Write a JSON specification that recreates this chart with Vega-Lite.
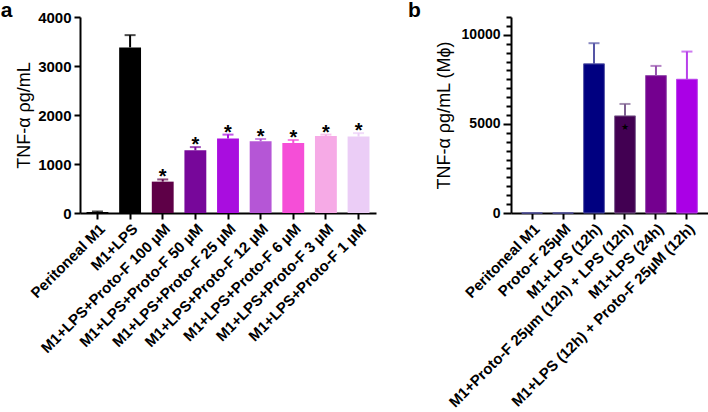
{
  "$schema": "https://vega.github.io/schema/vega-lite/v6.json",
  "padding": {"left": 0, "top": 0, "right": 0, "bottom": 0},
  "background": "white",
  "config": {
    "font": "Liberation Sans",
    "view": {"stroke": null},
    "concat": {"spacing": 32},
    "axis": {
      "domainColor": "black", "domainWidth": 2, "tickColor": "black", "tickWidth": 2,
      "labelFont": "Liberation Sans", "labelFontWeight": "bold", "labelFontSize": 15, "labelColor": "black",
      "titleFont": "Liberation Sans", "titleFontWeight": "normal", "titleFontSize": 18, "titleColor": "black",
      "grid": false, "labelLimit": 400
    }
  },
  "datasets": {
    "a": [
      {"cat": "Peritoneal M1", "v": 20, "e": 30, "star": "", "c": "#000000"},
      {"cat": "M1+LPS", "v": 3380, "e": 3630, "star": "", "c": "#000000"},
      {"cat": "M1+LPS+Proto-F 100 µM", "v": 640, "e": 685, "star": "*", "c": "#5e0047"},
      {"cat": "M1+LPS+Proto-F 50 µM", "v": 1280, "e": 1345, "star": "*", "c": "#77079a"},
      {"cat": "M1+LPS+Proto-F 25 µM", "v": 1520, "e": 1600, "star": "*", "c": "#a90ddf"},
      {"cat": "M1+LPS+Proto-F 12 µM", "v": 1465, "e": 1510, "star": "*", "c": "#b556d6"},
      {"cat": "M1+LPS+Proto-F 6 µM", "v": 1430, "e": 1490, "star": "*", "c": "#f54ed7"},
      {"cat": "M1+LPS+Proto-F 3 µM", "v": 1570, "e": 1600, "star": "*", "c": "#f6aae6"},
      {"cat": "M1+LPS+Proto-F 1 µM", "v": 1560, "e": 1630, "star": "*", "c": "#ebcdf6"}
    ],
    "b": [
      {"cat": "Peritoneal M1", "v": 0, "e": null, "star": "", "sy": null, "c": "#000080", "ec": "#5555a5"},
      {"cat": "Proto-F 25µM", "v": 0, "e": null, "star": "", "sy": null, "c": "#000080", "ec": "#5555a5"},
      {"cat": "M1+LPS (12h)", "v": 8370, "e": 9530, "star": "", "sy": null, "c": "#000080", "ec": "#5555a5"},
      {"cat": "M1+Proto-F 25µm (12h) + LPS (12h)", "v": 5450, "e": 6120, "star": "★", "sy": 4800, "c": "#420052", "ec": "#7d5f90"},
      {"cat": "M1+LPS (24h)", "v": 7710, "e": 8255, "star": "", "sy": null, "c": "#74008f", "ec": "#9550ad"},
      {"cat": "M1+LPS (12h) + Proto-F 25µM (12h)", "v": 7505, "e": 9060, "star": "", "sy": null, "c": "#aa00e6", "ec": "#b840ea"}
    ]
  },
  "hconcat": [
    {
      "width": 296, "height": 196,
      "title": {"text": "a", "anchor": "start", "frame": "bounds", "fontSize": 21, "fontWeight": "bold", "font": "Liberation Sans", "offset": -11, "dx": -15},
      "data": {"name": "a"},
      "encoding": {
        "x": {"field": "cat", "type": "nominal", "sort": null,
          "scale": {"paddingInner": 0.33, "paddingOuter": 0.2},
          "axis": {"title": null, "labelAngle": -45, "tickSize": 6, "labelPadding": 2}}
      },
      "layer": [
        {"mark": {"type": "bar"},
          "encoding": {
            "y": {"field": "v", "type": "quantitative", "scale": {"domain": [0, 4000], "nice": false},
              "axis": {"title": "TNF-α ρg/mL", "format": "d", "values": [0, 1000, 2000, 3000, 4000], "tickSize": 6, "labelPadding": 3}},
            "color": {"field": "c", "type": "nominal", "scale": null}}},
        {"mark": {"type": "rule", "strokeWidth": 2},
          "encoding": {"y": {"field": "v", "type": "quantitative"}, "y2": {"field": "e"},
            "color": {"field": "c", "type": "nominal", "scale": null}}},
        {"mark": {"type": "tick", "thickness": 2, "size": 11},
          "encoding": {"y": {"field": "e", "type": "quantitative"},
            "color": {"field": "c", "type": "nominal", "scale": null}}},
        {"mark": {"type": "text", "fontSize": 20, "fontWeight": "bold", "dy": 4, "baseline": "alphabetic", "color": "black"},
          "encoding": {"y": {"field": "e", "type": "quantitative"}, "text": {"field": "star"}}}
      ]
    },
    {
      "width": 197, "height": 196,
      "title": {"text": "b", "anchor": "start", "frame": "bounds", "fontSize": 21, "fontWeight": "bold", "font": "Liberation Sans", "offset": -11, "dx": -27},
      "data": {"name": "b"},
      "encoding": {
        "x": {"field": "cat", "type": "nominal", "sort": null,
          "scale": {"paddingInner": 0.33, "paddingOuter": 0.345},
          "axis": {"title": null, "labelAngle": -45, "tickSize": 6, "labelPadding": 2}}
      },
      "layer": [
        {"mark": {"type": "bar", "strokeWidth": 1},
          "encoding": {
            "y": {"field": "v", "type": "quantitative", "scale": {"domain": [0, 11000], "nice": false},
              "axis": {"title": "TNF-α ρg/mL (Mϕ)", "format": "d", "tickCount": 22, "labelFontSize": 14, "titlePadding": 8,
                "labelColor": {"condition": {"test": "datum.value % 5000 === 0", "value": "black"}, "value": "transparent"},
                "tickSize": {"condition": {"test": "datum.value % 5000 === 0", "value": 8}, "value": 5},
                "labelPadding": 3}},
            "color": {"field": "c", "type": "nominal", "scale": null},
            "stroke": {"field": "ec", "type": "nominal", "scale": null}}},
        {"mark": {"type": "rule", "strokeWidth": 2},
          "encoding": {"y": {"field": "v", "type": "quantitative"},
            "y2": {"field": "e"},
            "color": {"field": "ec", "type": "nominal", "scale": null}}},
        {"mark": {"type": "tick", "thickness": 2, "size": 11},
          "encoding": {"y": {"field": "e", "type": "quantitative"},
            "color": {"field": "ec", "type": "nominal", "scale": null}}},
        {"mark": {"type": "text", "fontSize": 9, "color": "black", "baseline": "middle"},
          "encoding": {"y": {"field": "sy", "type": "quantitative"}, "text": {"field": "star"}}}
      ]
    }
  ]
}
